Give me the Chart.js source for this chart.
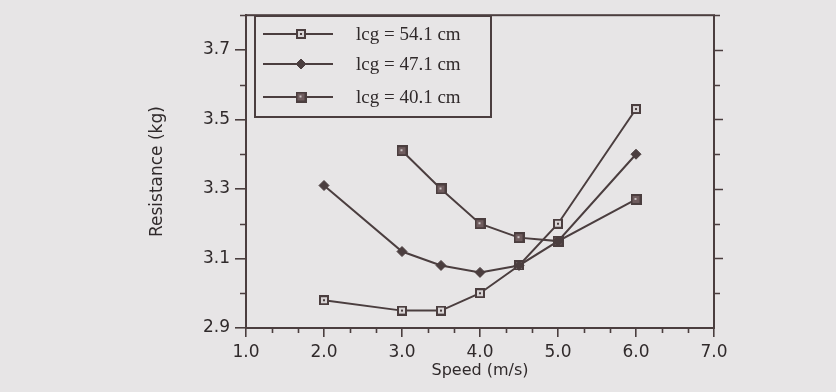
<!DOCTYPE html>
<html>
<head>
<meta charset="utf-8">
<script src="https://cdn.jsdelivr.net/npm/chart.js@4/dist/chart.umd.min.js"></script>
<style>
  html, body { margin:0; padding:0; background:#e7e5e6; }
  #wrap { width:836px; height:392px; position:relative; }
</style>
</head>
<body>
<div id="wrap"><canvas id="chart-canvas" width="836" height="392"></canvas></div>
<script>
// speeds (m/s) and resistance (kg)
const speeds = [2.0, 3.0, 3.5, 4.0, 4.5, 5.0, 6.0];
const lcg541 = [2.98, 2.95, 2.95, 3.00, 3.08, 3.20, 3.53];
const lcg471 = [3.31, 3.12, 3.08, 3.06, 3.08, 3.15, 3.40];
const speeds401 = [3.0, 3.5, 4.0, 4.5, 5.0, 6.0];
const lcg401 = [3.41, 3.30, 3.20, 3.16, 3.15, 3.27];
const seriesLabels = ['lcg = 54.1 cm', 'lcg = 47.1 cm', 'lcg = 40.1 cm'];

const xTicks = [1.0, 2.0, 3.0, 4.0, 5.0, 6.0, 7.0];
const yTicks = [2.9, 3.1, 3.3, 3.5, 3.7];
const xRange = [1.0, 7.0];
const yRange = [2.9, 3.8];

const ink = '#4b3e3f';
const textInk = '#302a2b';

// little square markers with a dot in the middle, like the scanned ones
function squareMarker(size, fill, dot){
    let c = document.createElement('canvas');
    c.width = size; c.height = size;
    let g = c.getContext('2d');
    g.fillStyle = ink;
    g.fillRect(0, 0, size, size);
    g.fillStyle = fill;
    g.fillRect(2, 2, size - 4, size - 4);
    g.fillStyle = dot;
    let m = Math.floor(size / 2) - 1;
    g.fillRect(m, m, 2, 2);
    return c;
}

function toPoints(xs, ys){
    return ys.map((v, i) => ({x: xs[i], y: v}));
}

// order: lower is drawn on top (diamonds sit over the squares)
const series = [
    {label: seriesLabels[0], data: toPoints(speeds, lcg541), pointStyle: squareMarker(10, '#d9d5d6', ink), pointRadius: 5, order: 1},
    {label: seriesLabels[1], data: toPoints(speeds, lcg471), pointStyle: 'rectRot', pointRadius: 5, order: 0},
    {label: seriesLabels[2], data: toPoints(speeds401, lcg401), pointStyle: squareMarker(11, '#6f5c5e', '#c9c2c3'), pointRadius: 5.5, order: 2}
];

// minor ticks, right ticks, frame and the boxed legend
const framePlugin = {
    id: 'frame',
    afterDraw(chart){
        const ctx = chart.ctx;
        const a = chart.chartArea;
        const xs = chart.scales.x, ys = chart.scales.y;
        ctx.save();
        ctx.strokeStyle = ink;
        ctx.lineWidth = 2;
        ctx.strokeRect(a.left, a.top, a.right - a.left, a.bottom - a.top);

        ctx.lineWidth = 1.6;
        ctx.beginPath();
        // bottom minor ticks, two between labels
        xTicks.slice(0, -1).forEach((v) => {
            [1/3, 2/3].forEach((f) => {
                let px = Math.round(xs.getPixelForValue(v + f)) + 0.5;
                ctx.moveTo(px, a.bottom); ctx.lineTo(px, a.bottom + 5);
            });
        });
        // left minor ticks + right outward ticks
        yTicks.forEach((v) => {
            let py = Math.round(ys.getPixelForValue(v + 0.1)) + 0.5;
            ctx.moveTo(a.left, py); ctx.lineTo(a.left - 6, py);
            ctx.moveTo(a.right, py); ctx.lineTo(a.right + 6, py);
            if(v > yRange[0]){
                let pm = Math.round(ys.getPixelForValue(v)) + 0.5;
                ctx.moveTo(a.right, pm); ctx.lineTo(a.right + 9, pm);
            }
        });
        ctx.stroke();

        // legend box
        const box = {l: 255, t: 16, r: 491, b: 117};
        ctx.lineWidth = 2;
        ctx.strokeRect(box.l, box.t, box.r - box.l, box.b - box.t);
        const rows = [34, 64, 97];
        ctx.font = '19px "Liberation Serif", serif';
        ctx.textBaseline = 'middle';
        chart.data.datasets.forEach((ds, i) => {
            let y = rows[i];
            ctx.strokeStyle = ink;
            ctx.lineWidth = 2;
            ctx.beginPath();
            ctx.moveTo(263, y); ctx.lineTo(333, y);
            ctx.stroke();
            ctx.fillStyle = ds.pointBackgroundColor;
            ctx.lineWidth = ds.pointBorderWidth;
            Chart.helpers.drawPoint(ctx, {pointStyle: ds.pointStyle, radius: ds.pointRadius, rotation: 0, borderWidth: ds.pointBorderWidth}, 301, y);
            ctx.fillStyle = textInk;
            ctx.fillText(ds.label, 356, y + 1);
        });
        ctx.restore();
    }
};

let ctx = document.getElementById('chart-canvas').getContext('2d');
let chart = new Chart(ctx, {
    type: 'line',
    data: {
        datasets: series.map((s) => ({
            label: s.label,
            data: s.data,
            order: s.order,
            borderColor: ink,
            borderWidth: 2,
            pointStyle: s.pointStyle,
            pointRadius: s.pointRadius,
            pointBackgroundColor: ink,
            pointBorderColor: ink,
            pointBorderWidth: 1,
            tension: 0
        }))
    },
    options: {
        responsive: false,
        animation: false,
        layout: {padding: {left: 147, right: 122, top: 9, bottom: 2}},
        plugins: {legend: {display: false}, tooltip: {enabled: false}},
        scales: {
            x: {
                type: 'linear',
                min: xRange[0], max: xRange[1],
                afterBuildTicks: (scale) => { scale.ticks = xTicks.map((v) => ({value: v})); },
                afterFit: (scale) => { scale.height = 62; },
                grid: {drawOnChartArea: false, tickLength: 9, color: ink, lineWidth: 1.6},
                border: {color: ink, width: 2},
                ticks: {color: textInk, padding: 5, font: {family: 'DejaVu Sans', size: 17}, callback: (v) => Number(v).toFixed(1)},
                title: {display: true, text: 'Speed (m/s)', color: textInk, font: {family: 'DejaVu Sans', size: 16}, padding: {top: 0, bottom: 10}}
            },
            y: {
                type: 'linear',
                min: yRange[0], max: yRange[1],
                afterBuildTicks: (scale) => { scale.ticks = yTicks.map((v) => ({value: v})); },
                afterFit: (scale) => { scale.width = 99; },
                grid: {drawOnChartArea: false, tickLength: 11, color: ink, lineWidth: 1.6},
                border: {color: ink, width: 2},
                ticks: {color: textInk, padding: 5, font: {family: 'DejaVu Sans', size: 17}, callback: (v) => Number(v).toFixed(1)},
                title: {display: true, text: 'Resistance (kg)', color: textInk, font: {family: 'DejaVu Sans', size: 17}, padding: {top: 0, bottom: 0}}
            }
        }
    },
    plugins: [framePlugin]
});
</script>
</body>
</html>
